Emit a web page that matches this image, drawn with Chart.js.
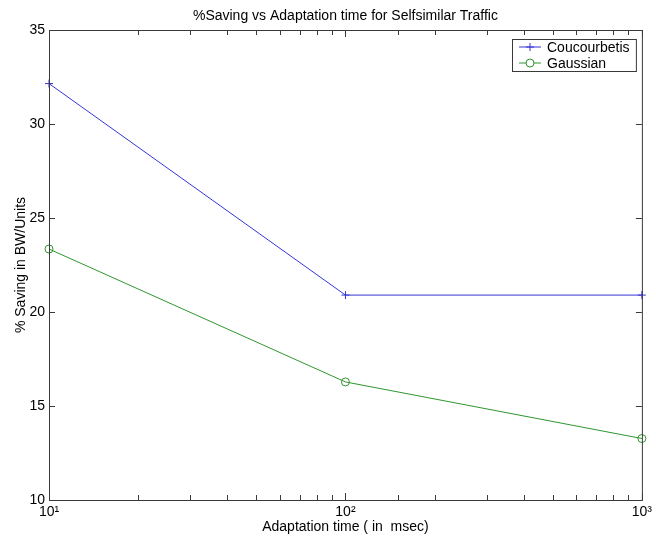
<!DOCTYPE html>
<html>
<head>
<meta charset="utf-8">
<script src="https://cdn.jsdelivr.net/npm/chart.js@4"></script>
<style>
  html, body { margin: 0; padding: 0; background: #fff; }
  #wrap { width: 656px; height: 545px; }
</style>
</head>
<body>
<div id="wrap"><canvas id="chart" width="656" height="545"></canvas></div>
<script>
const titleText = '%Saving vs Adaptation time for Selfsimilar Traffic';
const xLabel = 'Adaptation time ( in  msec)';
const yLabel = '% Saving in BW/Units';

const adaptTime = [10, 100, 1000];
const coucourbetis = [32.15, 20.9, 20.9];
const gaussian = [23.35, 16.28, 13.27];
const seriesNames = ['Coucourbetis', 'Gaussian'];
const xTickLabels = { 10: '10\u00b9', 100: '10\u00b2', 1000: '10\u00b3' };

const axisColor = '#3a3a3a';
const font = 'Arial, "Liberation Sans", sans-serif';

// MATLAB style box with inward ticks on all four sides
const boxTicks = {
    id: 'boxTicks',
    afterDraw(chart) {
        const { ctx, chartArea: a, scales } = chart;
        ctx.save();
        ctx.strokeStyle = axisColor;
        ctx.lineWidth = 1;
        ctx.strokeRect(a.left + 0.5, a.top + 0.5, a.right - a.left, a.bottom - a.top);
        ctx.beginPath();
        scales.x.ticks.forEach(t => {
            const px = Math.round(scales.x.getPixelForValue(t.value)) + 0.5;
            const major = xTickLabels[t.value] !== undefined;
            const len = major ? 7 : 5;
            ctx.moveTo(px, a.bottom); ctx.lineTo(px, a.bottom - len);
            ctx.moveTo(px, a.top); ctx.lineTo(px, a.top + len);
        });
        scales.y.ticks.forEach(t => {
            const py = Math.round(scales.y.getPixelForValue(t.value)) + 0.5;
            ctx.moveTo(a.left, py); ctx.lineTo(a.left + 6, py);
            ctx.moveTo(a.right, py); ctx.lineTo(a.right - 6, py);
        });
        ctx.stroke();

        // title over the axes
        ctx.fillStyle = '#000';
        ctx.font = '14px ' + font;
        ctx.textAlign = 'center';
        ctx.textBaseline = 'middle';
        ctx.fillText(titleText, (a.left + a.right) / 2, 16);
        ctx.restore();
    }
};

const boxLegend = {
    id: 'boxLegend',
    afterDraw(chart) {
        const { ctx, chartArea: a } = chart;
        const x0 = 512, y0 = 39, w = a.right - 6 - x0, h = 32;
        ctx.save();
        ctx.fillStyle = '#fff';
        ctx.fillRect(x0, y0, w, h);
        ctx.strokeStyle = axisColor;
        ctx.lineWidth = 1;
        ctx.strokeRect(x0 + 0.5, y0 + 0.5, w, h);
        chart.data.datasets.forEach((ds, i) => {
            const y = y0 + 8 + i * 16;
            ctx.strokeStyle = ds.borderColor;
            ctx.beginPath();
            ctx.moveTo(519, y); ctx.lineTo(541, y);
            ctx.stroke();
            if (ds.pointStyle === 'cross') {
                ctx.beginPath();
                ctx.moveTo(526, y); ctx.lineTo(534, y);
                ctx.moveTo(530, y - 4); ctx.lineTo(530, y + 4);
                ctx.stroke();
            } else {
                ctx.fillStyle = '#fff';
                ctx.beginPath();
                ctx.arc(530, y, 4, 0, Math.PI * 2);
                ctx.fill();
                ctx.stroke();
            }
            ctx.fillStyle = '#000';
            ctx.font = '14px ' + font;
            ctx.textAlign = 'left';
            ctx.textBaseline = 'middle';
            ctx.fillText(seriesNames[i], 547, y + 1);
        });
        ctx.restore();
    }
};

new Chart(document.getElementById('chart'), {
    type: 'line',
    data: {
        datasets: [
            {
                label: seriesNames[0],
                data: adaptTime.map((x, i) => ({ x, y: coucourbetis[i] })),
                borderColor: '#3434d8',
                backgroundColor: '#3434d8',
                borderWidth: 1,
                pointStyle: 'cross',
                pointRadius: 4,
                pointBorderWidth: 1,
                tension: 0,
                clip: false
            },
            {
                label: seriesNames[1],
                data: adaptTime.map((x, i) => ({ x, y: gaussian[i] })),
                borderColor: '#2f962f',
                backgroundColor: 'rgba(0,0,0,0)',
                borderWidth: 1,
                pointStyle: 'circle',
                pointRadius: 4,
                pointBorderWidth: 1,
                tension: 0,
                clip: false
            }
        ]
    },
    options: {
        responsive: false,
        animation: false,
        layout: { padding: { top: 30, right: 11, left: 0, bottom: 0 } },
        plugins: {
            legend: { display: false },
            title: { display: false },
            tooltip: { enabled: false }
        },
        scales: {
            x: {
                type: 'logarithmic',
                min: 10,
                max: 1000,
                afterFit: s => { s.height = 45; },
                grid: { display: false, drawTicks: false },
                border: { display: false },
                ticks: {
                    autoSkip: false,
                    maxRotation: 0,
                    padding: 4,
                    color: '#000',
                    font: { family: font, size: 14 },
                    callback: v => xTickLabels[v] || ''
                },
                title: {
                    display: true,
                    text: xLabel,
                    color: '#000',
                    font: { family: font, size: 14 },
                    padding: { top: 9, bottom: 9 }
                }
            },
            y: {
                min: 10,
                max: 35,
                afterFit: s => { s.width = 49; },
                grid: { display: false, drawTicks: false },
                border: { display: false },
                ticks: {
                    stepSize: 5,
                    padding: 4,
                    color: '#000',
                    font: { family: font, size: 14 }
                },
                title: {
                    display: true,
                    text: yLabel,
                    color: '#000',
                    font: { family: font, size: 14 },
                    padding: { top: 13, bottom: 0 }
                }
            }
        }
    },
    plugins: [boxTicks, boxLegend]
});
</script>
</body>
</html>
